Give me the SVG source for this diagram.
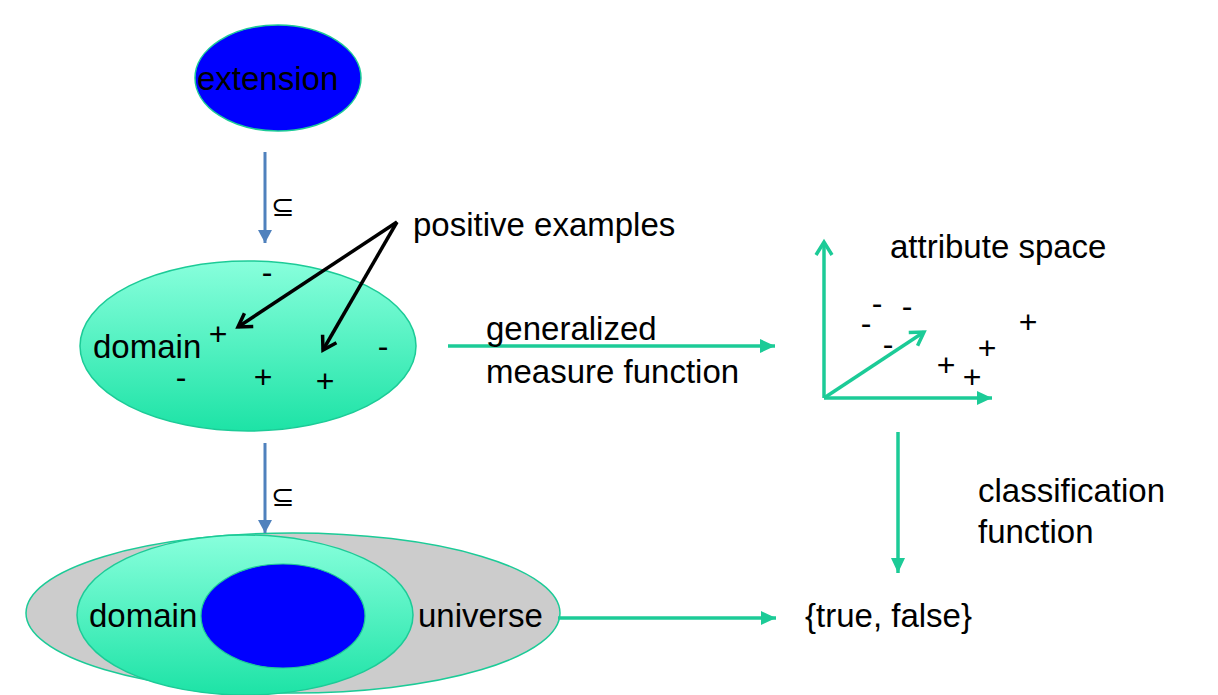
<svg xmlns="http://www.w3.org/2000/svg" width="1218" height="695" viewBox="0 0 1218 695">
<defs>
<style>
text{font-family:"Liberation Sans",Arial,sans-serif;font-size:33px;fill:#000}
.sym{font-family:"DejaVu Sans",sans-serif;font-size:28px}
.pm{text-anchor:middle;font-size:32px}
.blue{stroke:#4F81BD;stroke-width:3;fill:none}
.teal{stroke:#1CCB97;stroke-width:3.5;fill:none}
.blk{stroke:#000;stroke-width:3.5;fill:none}
</style>
<linearGradient id="gd" x1="0" y1="0" x2="0" y2="1">
<stop offset="0" stop-color="#88FFDC"/>
<stop offset="1" stop-color="#1DE3A6"/>
</linearGradient>
<marker id="mBlue" markerUnits="userSpaceOnUse" markerWidth="16" markerHeight="16" refX="13" refY="8" orient="auto" viewBox="0 0 16 16">
<path d="M0,1 L13,8 L0,15 Z" fill="#4F81BD"/>
</marker>
<marker id="mTeal" markerUnits="userSpaceOnUse" markerWidth="18" markerHeight="18" refX="15" refY="9" orient="auto" viewBox="0 0 18 18">
<path d="M0,2 L15,9 L0,16 Z" fill="#1CCB97"/>
</marker>
<marker id="mTealOpen" markerUnits="userSpaceOnUse" markerWidth="20" markerHeight="20" refX="16" refY="10" orient="auto" viewBox="0 0 20 20">
<path d="M3,2 L16,10 L3,18" fill="none" stroke="#1CCB97" stroke-width="3.5"/>
</marker>
<marker id="mBlk" markerUnits="userSpaceOnUse" markerWidth="20" markerHeight="20" refX="16" refY="10" orient="auto" viewBox="0 0 20 20">
<path d="M3,2 L16,10 L3,18" fill="none" stroke="#000" stroke-width="3.5"/>
</marker>
</defs>
<rect width="1218" height="695" fill="#fff"/>

<g id="extension">
<ellipse cx="278" cy="78" rx="83" ry="53" fill="#0000FF" stroke="#1CCB97" stroke-width="1.5"/>
<text x="197" y="90">extension</text>
</g>

<g id="domain-top">
<ellipse cx="248" cy="346" rx="168" ry="85" fill="url(#gd)" stroke="#1CCB97" stroke-width="1.5"/>
<text x="93" y="358">domain</text>
<text class="pm" x="218" y="345">+</text>
<text class="pm" x="267" y="283">-</text>
<text class="pm" x="383" y="357">-</text>
<text class="pm" x="181" y="388">-</text>
<text class="pm" x="263" y="388">+</text>
<text class="pm" x="325" y="392">+</text>
</g>

<g id="bottom-sets">
<ellipse cx="293" cy="613" rx="267" ry="80" fill="#CCCCCC" stroke="#1CCB97" stroke-width="1.5"/>
<ellipse cx="245" cy="615" rx="168" ry="80" fill="url(#gd)" stroke="#1CCB97" stroke-width="1.5"/>
<ellipse cx="283" cy="616" rx="82" ry="52" fill="#0000FF" stroke="#1CCB97" stroke-width="1.2"/>
<text x="89" y="627">domain</text>
<text x="418" y="627">universe</text>
</g>

<g id="positive-examples">
<text x="413" y="236">positive examples</text>
</g>

<g id="attribute-space">
<text x="890" y="258">attribute space</text>
<line class="teal" x1="824" y1="398" x2="824" y2="242" marker-end="url(#mTealOpen)"/>
<line class="teal" x1="824" y1="398" x2="992" y2="398" marker-end="url(#mTeal)"/>
<line class="teal" x1="824" y1="398" x2="924" y2="332" marker-end="url(#mTealOpen)"/>
<text class="pm" x="877" y="314">-</text>
<text class="pm" x="907" y="317">-</text>
<text class="pm" x="866" y="334">-</text>
<text class="pm" x="888" y="355">-</text>
<text class="pm" x="1028" y="333">+</text>
<text class="pm" x="987" y="359">+</text>
<text class="pm" x="946" y="376">+</text>
<text class="pm" x="972" y="388">+</text>
</g>

<g id="true-false">
<text x="805" y="627">{true, false}</text>
</g>

<g id="connectors">
<line class="blue" x1="265" y1="152" x2="265" y2="243" marker-end="url(#mBlue)"/>
<text class="sym" x="271" y="216">⊆</text>
<line class="blue" x1="265" y1="443" x2="265" y2="533" marker-end="url(#mBlue)"/>
<text class="sym" x="271" y="506">⊆</text>
<line class="blk" x1="397" y1="222" x2="238" y2="327" marker-end="url(#mBlk)"/>
<line class="blk" x1="397" y1="222" x2="323" y2="350" marker-end="url(#mBlk)"/>
<line class="teal" x1="448" y1="346" x2="775" y2="346" marker-end="url(#mTeal)"/>
<text x="486" y="340">generalized</text>
<text x="486" y="383">measure function</text>
<line class="teal" x1="898" y1="432" x2="898" y2="573" marker-end="url(#mTeal)"/>
<text x="978" y="502">classification</text>
<text x="978" y="543">function</text>
<line class="teal" x1="558" y1="618" x2="776" y2="618" marker-end="url(#mTeal)"/>
</g>
</svg>
